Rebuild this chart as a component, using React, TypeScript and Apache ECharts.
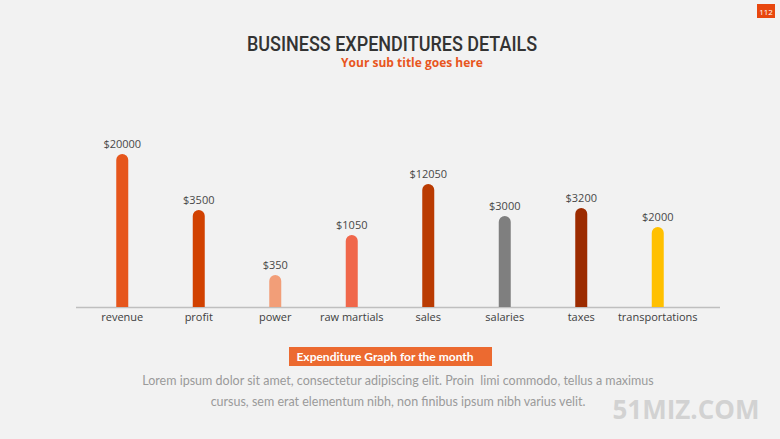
import React, { useEffect, useRef } from "react";
import * as echarts from "echarts";

const categories = ["revenue", "profit", "power", "raw martials", "sales", "salaries", "taxes", "transportations"];
const displayValues = [20000, 3500, 350, 1050, 12050, 3000, 3200, 2000];
const barHeights = [153, 97, 32, 72, 123, 91, 99, 80];
const barColors = ["#E6561C", "#D14100", "#F29E78", "#F0674B", "#BA3B02", "#7F7F7F", "#9C2B00", "#FFC000"];

const titleText = "BUSINESS EXPENDITURES DETAILS";
const subTitleText = "Your sub title goes here";
const captionText = "Expenditure Graph for the month";
const bodyLine1 = "Lorem ipsum dolor sit amet, consectetur adipiscing elit. Proin  limi commodo, tellus a maximus";
const bodyLine2 = "cursus, sem erat elementum nibh, non finibus ipsum nibh varius velit.";
const watermark = "51MIZ.COM";
const pageNo = "112";

export default function App() {
  const ref = useRef<HTMLDivElement>(null);
  useEffect(() => {
    document.body.style.margin = "0";
    const chart = echarts.init(ref.current!, null, { renderer: "svg" });
    chart.setOption({
      animation: false,
      backgroundColor: "#F2F2F2",
      grid: { left: 84, right: 84, top: 107, bottom: 132 },
      xAxis: {
        type: "category",
        data: categories,
        axisLine: { show: false },
        axisTick: { show: false },
        axisLabel: { interval: 0, color: "#404040", fontSize: 11, fontFamily: "Open Sans", margin: 4 },
      },
      yAxis: { type: "value", min: 0, max: 200, show: false, splitLine: { show: false } },
      series: [
        {
          type: "bar",
          barWidth: 12,
          data: barHeights.map((h, i) => ({
            value: h,
            itemStyle: { color: barColors[i], borderRadius: [6, 6, 0, 0] },
          })),
          label: {
            show: true,
            position: "top",
            distance: 5,
            color: "#484848",
            fontSize: 11,
            fontFamily: "Open Sans",
            formatter: (p: any) => "$" + displayValues[p.dataIndex],
          },
        },
      ],
      graphic: [
        { type: "line", shape: { x1: 76, y1: 307.5, x2: 720, y2: 307.5 }, style: { stroke: "#BFBFBF", lineWidth: 1.5 } },
        {
          type: "text", x: 392, y: 44, scaleX: 0.9,
          style: { text: titleText, fill: "#333333", font: "500 20px 'Roboto'", textAlign: "center", textVerticalAlign: "middle", lineHeight: 18 },
        },
        {
          type: "text", x: 412, y: 62,
          style: { text: subTitleText, fill: "#E8561E", font: "bold 12px 'Open Sans'", textAlign: "center", textVerticalAlign: "middle", lineHeight: 13 },
        },
        { type: "rect", shape: { x: 289, y: 347, width: 203, height: 19 }, style: { fill: "#EC6A30" } },
        {
          type: "text", x: 385, y: 356.5,
          style: { text: captionText, fill: "#FFFFFF", font: "bold 12px 'Lato'", textAlign: "center", textVerticalAlign: "middle" },
        },
        {
          type: "text", x: 398, y: 380,
          style: { text: bodyLine1, fill: "#9A9A9A", font: "12.5px 'Lato'", textAlign: "center", textVerticalAlign: "middle" },
        },
        {
          type: "text", x: 398, y: 401,
          style: { text: bodyLine2, fill: "#9A9A9A", font: "12.5px 'Lato'", textAlign: "center", textVerticalAlign: "middle" },
        },
        {
          type: "text", x: 686, y: 409,
          style: { text: watermark, fill: "#D2D2D2", font: "bold 26px 'Open Sans'", textAlign: "center", textVerticalAlign: "middle" },
        },
        { type: "rect", shape: { x: 757, y: 4, width: 18, height: 14 }, style: { fill: "#E8470E" } },
        {
          type: "text", x: 766, y: 11,
          style: { text: pageNo, fill: "#FFFFFF", font: "8px 'Open Sans'", textAlign: "center", textVerticalAlign: "middle" },
        },
      ],
    });
    return () => chart.dispose();
  }, []);
  return <div ref={ref} style={{ width: 780, height: 439, position: "fixed", left: 0, top: 0 }} />;
}
